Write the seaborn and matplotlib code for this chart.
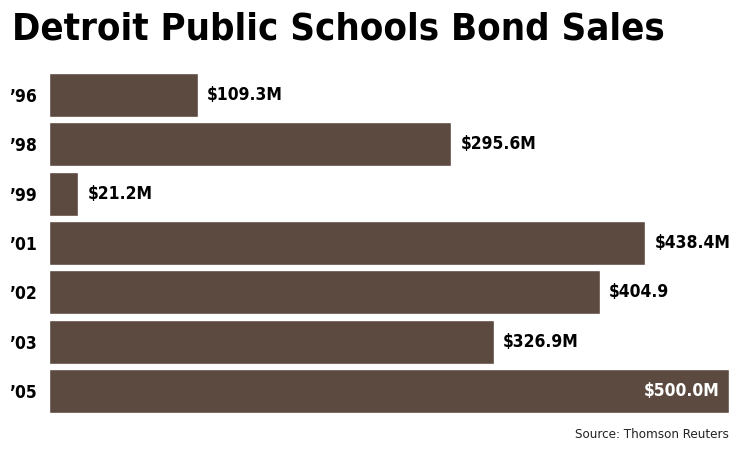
import seaborn as sns
import matplotlib.pyplot as plt
import pandas as pd

# bond sales by year (millions of dollars)
years = ["\u201996", "\u201998", "\u201999", "\u201901", "\u201902", "\u201903", "\u201905"]
amounts = [109.3, 295.6, 21.2, 438.4, 404.9, 326.9, 500.0]
labels = ["$109.3M", "$295.6M", "$21.2M", "$438.4M", "$404.9", "$326.9M", "$500.0M"]

df = pd.DataFrame({"year": years, "amount": amounts})

sns.set_style("white")
plt.rcParams["font.family"] = ["DejaVu Sans"]
plt.rcParams["font.stretch"] = "condensed"

fig = plt.figure(figsize=(7.4, 4.53), dpi=100)
ax = fig.add_axes([49 / 740, 0.0826, 680 / 740, 0.762])

sns.barplot(data=df, x="amount", y="year", orient="h", color="#5c4a40",
            saturation=1, width=0.89, ax=ax)
ax.set_xlim(0, 500)
ax.set_ylim(6.5, -0.5)

# value labels: outside the bar, except the longest one which sits inside
for i, (v, lab) in enumerate(zip(amounts, labels)):
    if v >= 480:
        ax.text(v - 7, i, lab, ha="right", va="center", color="white",
                fontsize=12.5, fontweight="bold")
    else:
        ax.text(v + 7, i, lab, ha="left", va="center", color="black",
                fontsize=12.5, fontweight="bold")

ax.set_xlabel("")
ax.set_ylabel("")
ax.set_xticks([])
ax.tick_params(axis="y", length=0, pad=9)
for t in ax.get_yticklabels():
    t.set_fontweight("bold")
    t.set_fontsize(12.5)
    t.set_color("black")
sns.despine(ax=ax, left=True, bottom=True)

title = fig.text(12 / 740, 1 - 30 / 453, "Detroit Public Schools Bond Sales",
                 fontsize=30, fontweight="bold", va="center", ha="left",
                 color="black")
# shrink the title so it spans the same width as in the original
fig.canvas.draw()
w = title.get_window_extent().width
title.set_fontsize(30 * 653 / w)

fig.text(729 / 740, 1 - 435 / 453, "Source: Thomson Reuters",
         fontsize=9.5, ha="right", va="center", color="#222222")

fig.savefig("out.png", dpi=100)
